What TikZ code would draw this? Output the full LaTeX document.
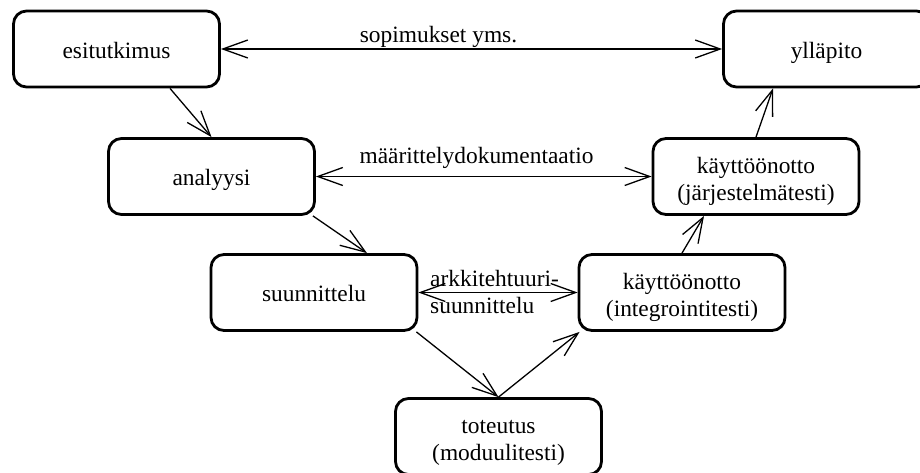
\documentclass[tikz,border=0pt]{standalone}
\usepackage{fontspec}
\setmainfont{Liberation Serif}
\usetikzlibrary{arrows.meta}
\begin{document}
\begin{tikzpicture}[x=1pt,y=-1pt,
  font=\fontsize{23.4pt}{27pt}\selectfont,
  phase/.style={draw, line width=2.8pt, rectangle, rounded corners=13pt,
    minimum width=206pt, minimum height=76pt, inner sep=0pt, align=center,
    text height=18pt, text depth=0pt},
  phase2/.style={phase, text height=47pt, text depth=0pt},
  barb/.tip={Straight Barb[length=25pt,width=18pt,line width=1.3pt]},
  flow/.style={line width=1.3pt, -barb},
  both/.style={line width=1.3pt, barb-barb},
  lbl/.style={inner sep=0pt}]
\useasboundingbox (0,0) rectangle (920,472);
\clip (0,0) rectangle (920,472);

% phases of the V-model
\node[phase]  (esi)   at (116.5,49)    {esitutkimus};
\node[phase]  (ana)   at (211.5,176.5) {analyysi};
\node[phase]  (suu)   at (314,292.5)   {suunnittelu};
\node[phase2] (tot)   at (498.5,436.5) {toteutus\\(moduulitesti)};
\node[phase2] (integ) at (682,292.5)   {käyttöönotto\\(integrointitesti)};
\node[phase2] (jarj)  at (756,176.5)   {käyttöönotto\\(järjestelmätesti)};
\node[phase]  (yll)   at (826.5,49)    {ylläpito};

% downward and upward flow
\draw[flow] ([xshift=53.5pt]esi.south) -- (ana.north);
\draw[flow] ([xshift=-3pt]ana.south east) -- ([xshift=53pt]suu.north);
\draw[flow] ([xshift=-2pt]suu.south east) -- (tot.north);
\draw[flow] (tot.north) -- ([xshift=2pt]integ.south west);
\draw[flow] (integ.north) -- ([xshift=-52pt]jarj.south);
\draw[flow] (jarj.north) -- ([xshift=-53.5pt]yll.south);

% correspondences between the two legs
\draw[both] (esi.east) -- (yll.west);
\draw[both] (ana.east) -- (jarj.west);
\draw[both] (suu.east) -- (integ.west);

\node[lbl, anchor=base] (l1) at (438.5,42) {sopimukset yms.};
\node[lbl, anchor=base] (l2) at (476.5,163) {määrittelydokumentaatio};
\node[lbl, anchor=base west, align=left] (l3) at (430,313) {arkkitehtuuri-\\suunnittelu};
\end{tikzpicture}
\end{document}
